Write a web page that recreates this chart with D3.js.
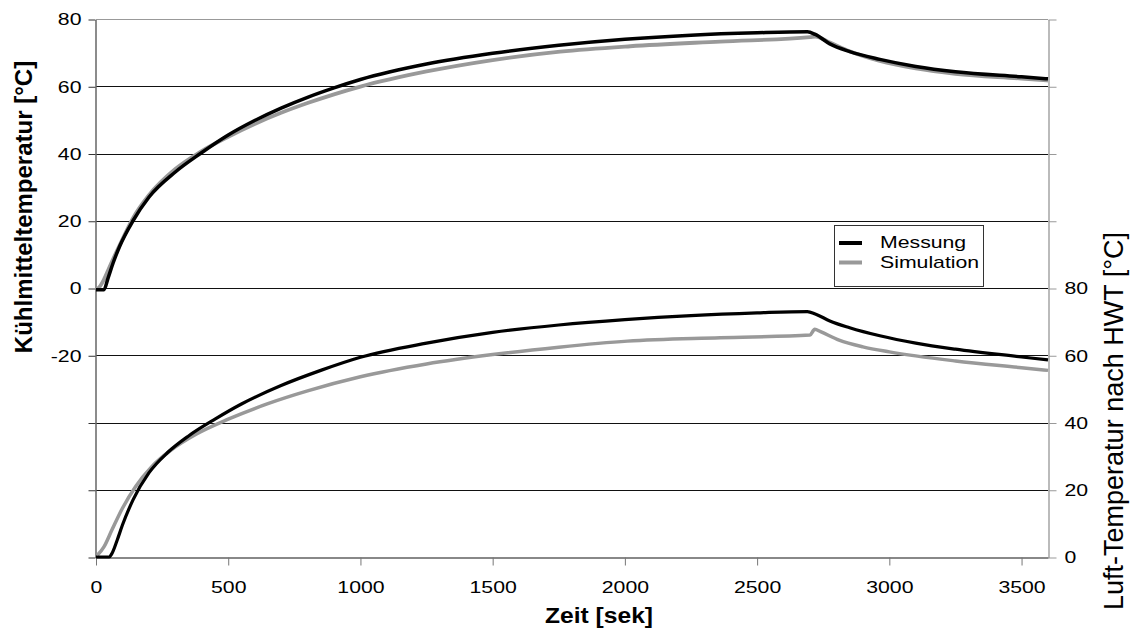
<!DOCTYPE html>
<html>
<head>
<meta charset="utf-8">
<script src="https://cdn.jsdelivr.net/npm/d3@7"></script>
<style>
    body { margin: 0; background: #fff; }
    svg { display: block; font-family: "Liberation Sans", Arial, sans-serif; }
</style>
</head>
<body>
<svg id="chart" width="1133" height="630"></svg>
<script>
// Kühlmitteltemperatur (linke Achse)
const zeitKuehlMess = [0, 30, 45, 65, 90, 140, 200, 300, 395, 500, 600, 700, 800, 900, 1000, 1250, 1500, 1750, 2000, 2250, 2500, 2690, 2720, 2775, 2850, 2964, 3100, 3250, 3500, 3600];
const kuehlMessung  = [-0.5, -0.5, 2.8, 7.5, 12.5, 20, 27, 34.5, 40, 45.5, 49.8, 53.5, 56.7, 59.5, 62, 66.6, 69.8, 72.2, 74, 75.2, 75.9, 76.2, 75.4, 72.6, 70.3, 68, 65.9, 64.3, 62.8, 62.2];
const zeitKuehlSim  = [0, 15, 30, 50, 70, 100, 140, 200, 300, 395, 500, 600, 700, 800, 900, 1000, 1250, 1500, 1755, 2020, 2360, 2700, 2720, 2775, 2850, 2964, 3100, 3250, 3500, 3600];
const kuehlSim      = [-0.5, 0.5, 2.5, 6, 9.5, 14.5, 20.8, 27.6, 35.4, 40.5, 45, 48.8, 52.1, 55, 57.6, 59.9, 64.4, 67.8, 70.3, 71.9, 73.3, 74.6, 74.8, 73, 70.4, 67.5, 65.3, 63.7, 62.3, 61.7];

// Luft-Temperatur nach HWT (rechte Achse)
const zeitLuftMess = [0, 25, 50, 60, 80, 100, 140, 200, 270, 350, 450, 550, 700, 850, 1000, 1250, 1500, 1750, 2000, 2250, 2500, 2690, 2720, 2775, 2850, 2964, 3100, 3250, 3500, 3600];
const luftMessung  = [0, 0, 0, 1, 5, 9.5, 17, 25, 31, 36, 41, 45.5, 51, 55.5, 59.4, 63.6, 66.8, 69, 70.6, 71.8, 72.6, 73, 72.3, 70.2, 68.2, 65.8, 63.6, 61.8, 59.5, 58.6];
const zeitLuftSim  = [5, 30, 60, 100, 150, 210, 280, 380, 500, 650, 800, 1000, 1250, 1500, 1750, 2010, 2360, 2700, 2718, 2740, 2810, 2900, 3000, 3250, 3500, 3600];
const luftSim      = [0.5, 3, 8, 14.5, 21, 26.8, 31.6, 36.6, 41, 45.6, 49.4, 53.6, 57.4, 60.2, 62.4, 64.2, 65.2, 66, 67.7, 67, 64.5, 62.5, 61, 58.3, 56.3, 55.5];

const xTicks = [0, 500, 1000, 1500, 2000, 2500, 3000, 3500];
const yLeftTicks = [-80, -60, -40, -20, 0, 20, 40, 60, 80];
const yRightTicks = [0, 20, 40, 60, 80, 100, 120, 140, 160];
const seriesNames = ['Messung', 'Simulation'];
const seriesColors = ['#000000', '#999999'];

let svg = d3.select('#chart');
let plotLeft = 96, plotRight = 1048, plotTop = 19, plotBottom = 557;

let x = d3.scaleLinear().domain([0, 3600]).range([plotLeft, plotRight]);
let yL = d3.scaleLinear().domain([-80, 80]).range([plotBottom, plotTop]);
let yR = d3.scaleLinear().domain([0, 160]).range([plotBottom, plotTop]);

// Text horizontal etwas gestreckt wie im Original
const SX = 1.25;
function stretchTicks(g, dx) {
    g.selectAll('.tick text')
        .attr('x', dx / SX)
        .attr('transform', 'scale(' + SX + ',1)');
}

// Gitterlinien
svg.append('g').attr('class', 'grid').selectAll('line').data(yLeftTicks).enter().append('line')
    .attr('x1', plotLeft).attr('x2', plotRight)
    .attr('y1', d => Math.round(yL(d)) + 0.5).attr('y2', d => Math.round(yL(d)) + 0.5)
    .attr('stroke', d => d === 80 ? '#999' : '#111').attr('stroke-width', 1);

// linke Achse
let gL = svg.append('g').attr('transform', 'translate(' + (plotLeft - 0.5) + ',0.5)')
    .call(d3.axisLeft(yL).tickValues(yLeftTicks).tickSize(7).tickSizeOuter(0)
        .tickFormat(d => d >= -20 ? d : ''));
gL.select('.domain').attr('stroke', '#666').attr('stroke-width', 1.5);
gL.selectAll('.tick line').attr('stroke', '#333');
gL.selectAll('.tick text').attr('font-size', 17).attr('fill', '#000');
stretchTicks(gL, -14);

// rechte Achse
let gR = svg.append('g').attr('transform', 'translate(' + (plotRight + 0.5) + ',0.5)')
    .call(d3.axisRight(yR).tickValues(yRightTicks).tickSize(8).tickSizeOuter(0)
        .tickFormat(d => d <= 80 ? d : ''));
gR.select('.domain').attr('stroke', '#bbb').attr('stroke-width', 2);
gR.selectAll('.tick line').attr('stroke', '#999');
gR.selectAll('.tick text').attr('font-size', 17).attr('fill', '#000');
stretchTicks(gR, 16);

// Zeitachse
let gX = svg.append('g').attr('transform', 'translate(0,' + (plotBottom + 0.5) + ')')
    .call(d3.axisBottom(x).tickValues(xTicks).tickSize(8).tickSizeOuter(0).tickFormat(d3.format('d')));
gX.select('.domain').attr('stroke', '#888').attr('stroke-width', 2);
gX.selectAll('.tick line').attr('stroke', '#777');
gX.selectAll('.tick text').attr('font-size', 17).attr('fill', '#000').attr('dy', '1.45em');
stretchTicks(gX, 0);

// Kurven (Simulation zuerst, Messung darüber)
let lineL = d3.line().x(d => x(d[0])).y(d => yL(d[1])).curve(d3.curveMonotoneX);
let lineR = d3.line().x(d => x(d[0])).y(d => yR(d[1])).curve(d3.curveMonotoneX);
let curves = [
    { path: lineR(d3.zip(zeitLuftSim, luftSim)), color: seriesColors[1], w: 3.5 },
    { path: lineR(d3.zip(zeitLuftMess, luftMessung)), color: seriesColors[0], w: 3.2 },
    { path: lineL(d3.zip(zeitKuehlSim, kuehlSim)), color: seriesColors[1], w: 3.8 },
    { path: lineL(d3.zip(zeitKuehlMess, kuehlMessung)), color: seriesColors[0], w: 3.5 }
];
svg.append('g').attr('class', 'curves').selectAll('path').data(curves).enter().append('path')
    .attr('d', d => d.path).attr('fill', 'none')
    .attr('stroke', d => d.color).attr('stroke-width', d => d.w)
    .attr('stroke-linejoin', 'round');

// Achsentitel
svg.append('text').attr('transform', 'translate(32,207) rotate(-90)')
    .attr('text-anchor', 'middle').attr('font-size', 24).attr('font-weight', 'bold')
    .text('Kühlmitteltemperatur [°C]');
svg.append('text').attr('transform', 'translate(1123,421) rotate(-90)')
    .attr('text-anchor', 'middle').attr('font-size', 27)
    .text('Luft-Temperatur nach HWT [°C]');
svg.append('text').attr('transform', 'translate(599,623) scale(1.12,1)')
    .attr('text-anchor', 'middle').attr('font-size', 22).attr('font-weight', 'bold')
    .text('Zeit [sek]');

// Legende
let lg = svg.append('g').attr('class', 'legend').attr('transform', 'translate(834,225)');
lg.append('rect').attr('x', 0.5).attr('y', 0.5).attr('width', 149).attr('height', 61)
    .attr('fill', '#fff').attr('stroke', '#333');
let item = lg.selectAll('g.item').data(seriesNames).enter().append('g')
    .attr('class', 'item').attr('transform', (d, i) => 'translate(0,' + (18 + i * 19.5) + ')');
item.append('line').attr('x1', 5).attr('x2', 28)
    .attr('stroke', (d, i) => seriesColors[i]).attr('stroke-width', 4);
item.append('text').attr('transform', 'translate(46,5) scale(' + SX + ',1)')
    .attr('font-size', 17).text(d => d);
</script>
</body>
</html>
